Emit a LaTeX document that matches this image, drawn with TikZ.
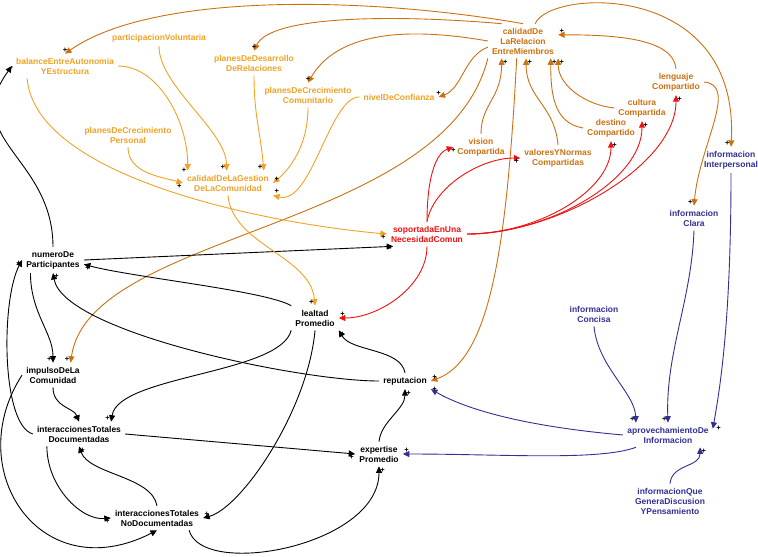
\documentclass[tikz,border=0pt]{standalone}
\usepackage{fontspec}
\setmainfont{Liberation Sans}
\usetikzlibrary{arrows.meta}
\definecolor{ambar}{RGB}{242,162,36}
\definecolor{cobre}{RGB}{204,112,16}
\definecolor{rojo}{RGB}{240,16,16}
\definecolor{indigo}{RGB}{48,48,150}
\tikzset{
  var/.style={align=center, inner sep=4pt, font=\bfseries\fontsize{8.5}{10}\selectfont},
  vamb/.style={var, text=ambar},
  vcob/.style={var, text=cobre},
  vroj/.style={var, text=rojo},
  vind/.style={var, text=indigo},
  lnk/.style={-{Triangle[length=6.5pt,width=6pt]}, line width=0.9pt},
  lnkA/.style={lnk, ambar},
  lnkC/.style={lnk, cobre},
  lnkR/.style={lnk, rojo},
  lnkI/.style={lnk, indigo},
  pol/.style={font=\bfseries\fontsize{7.5}{7.5}\selectfont, inner sep=1pt, text=black}
}
\begin{document}
\begin{tikzpicture}[x=1pt, y=1pt]
  \useasboundingbox (0,0) rectangle (758,-557);
  % variables
  \node[vamb] (bal) at (65,-66) {balanceEntreAutonomia\\YEstructura};
  \node[vamb] (parV) at (159,-38) {participacionVoluntaria};
  \node[vamb] (pDR) at (254,-63) {planesDeDesarrollo\\DeRelaciones};
  \node[vamb] (pCC) at (308,-95) {planesDeCrecimiento\\Comunitario};
  \node[vamb] (niv) at (399,-97) {nivelDeConfianza};
  \node[vamb] (pCP) at (128,-135) {planesDeCrecimiento\\Personal};
  \node[vamb] (calG) at (228,-183) {calidadDeLaGestion\\DeLaComunidad};
  \node[vcob] (calR) at (523,-41) {calidadDe\\LaRelacion\\EntreMiembros};
  \node[vcob] (len) at (676,-82) {lenguaje\\Compartido};
  \node[vcob] (cul) at (642,-108) {cultura\\Compartida};
  \node[vcob] (des) at (611,-128) {destino\\Compartido};
  \node[vcob] (vis) at (481,-147) {vision\\Compartida};
  \node[vcob] (val) at (558,-158) {valoresYNormas\\Compartidas};
  \node[vroj] (sop) at (427,-234) {soportadaEnUna\\NecesidadComun};
  \node[vind] (infI) at (731,-160) {informacion\\Interpersonal};
  \node[vind] (infC) at (694,-218) {informacion\\Clara};
  \node[vind] (infCo) at (594,-314) {informacion\\Concisa};
  \node[vind] (apr) at (668,-435) {aprovechamientoDe\\Informacion};
  \node[vind] (infQ) at (670,-501) {informacionQue\\GeneraDiscusion\\YPensamiento};
  \node[var] (num) at (53,-260) {numeroDe\\Participantes};
  \node[var] (leal) at (315,-318) {lealtad\\Promedio};
  \node[var] (imp) at (53,-375) {impulsoDeLa\\Comunidad};
  \node[var] (rep) at (405,-381) {reputacion};
  \node[var] (iDoc) at (79,-434) {interaccionesTotales\\Documentadas};
  \node[var] (iNoD) at (157,-518) {interaccionesTotales\\NoDocumentadas};
  \node[var] (exp) at (379,-454) {expertise\\Promedio};

  % calidad de la relacion
  \draw[lnkC] (calR.north) .. controls +(170:150) and +(35:110) .. (bal.north) node[pol, at end, above] {+};
  \draw[lnkC] (calR.141) .. controls +(175:100) and +(65:40) .. (pDR.north) node[pol, at end, above] {+};
  \draw[lnkC] (calR.west) .. controls +(170:100) and +(60:50) .. (pCC.north) node[pol, at end, above] {+};
  \draw[lnkC] (calR.190) .. controls +(200:25) and +(20:25) .. (niv.east) node[pol, at end, above] {+};
  \draw[lnkC] (calR.south west) .. controls +(256:177) and +(82:133) .. (imp.35) node[pol, at end, above left] {+};
  \draw[lnkC] (calR.250) .. controls +(267:190) and +(20:63) .. (rep.east) node[pol, at end, above right] {+};
  \draw[lnkC] (calR.55) .. controls +(67:38) and +(87:167) .. (infI.north) node[pol, at end, above left] {+};
  \draw[lnkC] (len.north) .. controls +(95:30) and +(0:60) .. (calR.10) node[pol, at end, above right] {+};
  \draw[lnkC] (cul.west) .. controls +(174:29) and +(270:27) .. (calR.south east) node[pol, at end, below right] {+};
  \draw[lnkC] (des.west) .. controls +(170:30) and +(-90:35) .. (calR.-32) node[pol, at end, below right] {+};
  \draw[lnkC] (val.north) .. controls +(95:40) and +(-90:40) .. (calR.-80) node[pol, at end, below right] {+};
  \draw[lnkC] (vis.north) .. controls +(90:30) and +(-90:40) .. (calR.219) node[pol, at end, below right] {+};
  \draw[lnkC] (len.east) .. controls +(-5:35) and +(85:60) .. (infC.north) node[pol, at end, above left] {+};

  % necesidad comun
  \draw[lnkR] (sop.north) .. controls +(90:40) and +(200:20) .. (vis.west) node[pol, at end, below] {+};
  \draw[lnkR] (sop.north) .. controls +(80:35) and +(180:40) .. (val.west) node[pol, at end, below left] {+};
  \draw[lnkR] (sop.east) .. controls +(0:70) and +(-90:50) .. (des.south) node[pol, at end, below right] {+};
  \draw[lnkR] (sop.east) .. controls +(0:80) and +(-90:60) .. (cul.south) node[pol, at end, below right] {+};
  \draw[lnkR] (sop.east) .. controls +(0:90) and +(-90:70) .. (len.south) node[pol, at end, below right] {+};
  \draw[lnkR] (sop.south) .. controls +(-90:40) and +(0:40) .. (leal.east) node[pol, at end, above right] {+};
  \draw[lnkA] (bal.198) .. controls +(-85:100) and +(175:120) .. (sop.west) node[pol, at end, below left] {+};
  \draw[lnk] (num.east) -- (sop.200) node[pol, at end, below left] {-};

  % gestion de la comunidad
  \draw[lnkA] (bal.east) .. controls +(0:40) and +(90:50) .. (calG.163) node[pol, at end, left] {+};
  \draw[lnkA] (parV.south) .. controls +(-90:40) and +(90:40) .. (calG.97) node[pol, at end, above left] {+};
  \draw[lnkA] (pDR.south) .. controls +(-90:40) and +(95:40) .. (calG.19) node[pol, at end, above left] {+};
  \draw[lnkA] (pCC.south) .. controls +(-90:40) and +(40:20) .. (calG.east) node[pol, at end, above right] {+};
  \draw[lnkA] (niv.west) .. controls +(180:30) and +(-15:40) .. (calG.south east) node[pol, at end, above right] {+};
  \draw[lnkA] (pCP.south) .. controls +(-90:25) and +(165:25) .. (calG.west) node[pol, at end, below left] {+};
  \draw[lnkA] (calG.south) .. controls +(-85:50) and +(95:50) .. (leal.north) node[pol, at end, above left] {+};

  % participantes e interacciones
  \draw[lnk] (num.north) .. controls +(90:90) and +(234:90) .. (bal.west) node[pol, at end, below] {-};
  \draw[lnk] (num.210) .. controls +(-90:40) and +(90:30) .. (imp.north) node[pol, at end, above left] {+};
  \draw[lnk] (leal.north west) .. controls +(150:30) and +(-15:50) .. (num.-8) node[pol, at end, below right] {+};
  \draw[lnk] (rep.west) .. controls +(180:80) and +(-80:60) .. (num.south) node[pol, at end, below right] {+};
  \draw[lnk] (leal.south west) .. controls +(256:45) and +(81:47) .. (iDoc.21) node[pol, at end, above left] {+};
  \draw[lnk] (leal.south) .. controls +(-95:80) and +(15:40) .. (iNoD.east) node[pol, at end, above right] {+};
  \draw[lnk] (imp.south) .. controls +(-90:20) and +(110:15) .. (iDoc.north) node[pol, at end, above left] {+};
  \draw[lnk] (imp.west) .. controls +(237:113) and +(207:131) .. (iNoD.south) node[pol, at end, below left] {+};
  \draw[lnk] (iDoc.west) .. controls +(164:33) and +(242:45) .. (num.west) node[pol, at end, below left] {+};
  \draw[lnk] (iDoc.201) .. controls +(-90:40) and +(185:30) .. (iNoD.west) node[pol, at end, below left] {+};
  \draw[lnk] (iNoD.north) .. controls +(100:30) and +(-70:30) .. (iDoc.south) node[pol, at end, below right] {+};
  \draw[lnk] (iDoc.east) .. controls +(-5:80) and +(175:100) .. (exp.west) node[pol, at end, below left] {+};
  \draw[lnk] (iNoD.-21) .. controls +(-75:50) and +(-90:80) .. (exp.south) node[pol, at end, below right] {+};
  \draw[lnk] (exp.north) .. controls +(85:20) and +(-90:20) .. (rep.south) node[pol, at end, below right] {+};
  \draw[lnk] (rep.north) .. controls +(100:25) and +(-60:25) .. (leal.south east) node[pol, at end, below right] {+};

  % informacion
  \draw[lnkI] (apr.west) .. controls +(175:100) and +(-30:40) .. (rep.south east) node[pol, at end, right] {+};
  \draw[lnkI] (apr.201) .. controls +(200:40) and +(0:100) .. (exp.east) node[pol, at end, above right] {+};
  \draw[lnkI] (infCo.south) .. controls +(-85:40) and +(92:30) .. (apr.159) node[pol, at end, above left] {+};
  \draw[lnkI] (infC.south) .. controls +(-92:70) and +(92:70) .. (apr.north) node[pol, at end, above left] {+};
  \draw[lnkI] (infI.south) .. controls +(-90:150) and +(80:40) .. (apr.8) node[pol, at end, right=2pt] {+};
  \draw[lnkI] (infQ.north) .. controls +(85:20) and +(-90:20) .. (apr.-21) node[pol, at end, below right] {+};
\end{tikzpicture}
\end{document}
